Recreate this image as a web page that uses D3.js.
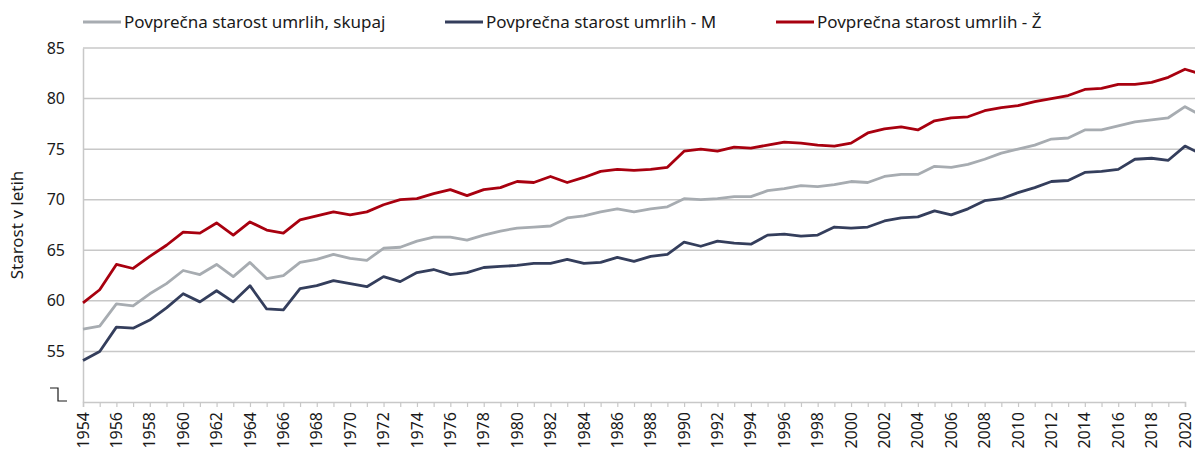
<!DOCTYPE html>
<html>
<head>
<meta charset="utf-8">
<script src="https://cdn.jsdelivr.net/npm/d3@7"></script>
<style>
  body { margin: 0; background: #fff; }
  svg { display: block; font-family: "Noto Sans", "Open Sans", sans-serif; }
</style>
</head>
<body>
<div id="chart"></div>
<script>
// years 1954-2021
const years = d3.range(1954, 2022);

const skupaj = [57.2, 57.5, 59.7, 59.5, 60.7, 61.7, 63.0, 62.6, 63.6, 62.4,
  63.8, 62.2, 62.5, 63.8, 64.1, 64.6, 64.2, 64.0, 65.2, 65.3,
  65.9, 66.3, 66.3, 66.0, 66.5, 66.9, 67.2, 67.3, 67.4, 68.2,
  68.4, 68.8, 69.1, 68.8, 69.1, 69.3, 70.1, 70.0, 70.1, 70.3,
  70.3, 70.9, 71.1, 71.4, 71.3, 71.5, 71.8, 71.7, 72.3, 72.5,
  72.5, 73.3, 73.2, 73.5, 74.0, 74.6, 75.0, 75.4, 76.0, 76.1,
  76.9, 76.9, 77.3, 77.7, 77.9, 78.1, 79.2, 78.3];

const moski = [54.1, 55.0, 57.4, 57.3, 58.1, 59.3, 60.7, 59.9, 61.0, 59.9,
  61.5, 59.2, 59.1, 61.2, 61.5, 62.0, 61.7, 61.4, 62.4, 61.9,
  62.8, 63.1, 62.6, 62.8, 63.3, 63.4, 63.5, 63.7, 63.7, 64.1,
  63.7, 63.8, 64.3, 63.9, 64.4, 64.6, 65.8, 65.4, 65.9, 65.7,
  65.6, 66.5, 66.6, 66.4, 66.5, 67.3, 67.2, 67.3, 67.9, 68.2,
  68.3, 68.9, 68.5, 69.1, 69.9, 70.1, 70.7, 71.2, 71.8, 71.9,
  72.7, 72.8, 73.0, 74.0, 74.1, 73.9, 75.3, 74.5];

const zenske = [59.8, 61.1, 63.6, 63.2, 64.4, 65.5, 66.8, 66.7, 67.7, 66.5,
  67.8, 67.0, 66.7, 68.0, 68.4, 68.8, 68.5, 68.8, 69.5, 70.0,
  70.1, 70.6, 71.0, 70.4, 71.0, 71.2, 71.8, 71.7, 72.3, 71.7,
  72.2, 72.8, 73.0, 72.9, 73.0, 73.2, 74.8, 75.0, 74.8, 75.2,
  75.1, 75.4, 75.7, 75.6, 75.4, 75.3, 75.6, 76.6, 77.0, 77.2,
  76.9, 77.8, 78.1, 78.2, 78.8, 79.1, 79.3, 79.7, 80.0, 80.3,
  80.9, 81.0, 81.4, 81.4, 81.6, 82.1, 82.9, 82.4];

const series = [
  { name: "Povprečna starost umrlih, skupaj", values: skupaj, color: "#a7acb1", lx: 83 },
  { name: "Povprečna starost umrlih - M", values: moski, color: "#343e5c", lx: 445 },
  { name: "Povprečna starost umrlih - Ž", values: zenske, color: "#a8000f", lx: 776 }
];

const yTicks = [55, 60, 65, 70, 75, 80, 85];
const xLabelYears = d3.range(1954, 2021, 2);

const W = 1195, H = 450;
const plotLeft = 83, plotTop = 48, plotBottom = 402;

const svg = d3.select("#chart").append("svg")
  .attr("width", W)
  .attr("height", H);

const x = d3.scaleLinear().domain([1954, 2020]).range([plotLeft, 1185]);
const y = d3.scaleLinear().domain([50, 85]).range([plotBottom, plotTop]);

// gridlines
svg.append("g")
  .selectAll("line")
  .data(yTicks)
  .join("line")
  .attr("x1", plotLeft)
  .attr("x2", W)
  .attr("y1", d => y(d))
  .attr("y2", d => y(d))
  .attr("stroke", "#c8c8c8")
  .attr("stroke-width", 1.5);

// y axis
const yAxis = svg.append("g")
  .attr("transform", `translate(${plotLeft},0)`)
  .call(d3.axisLeft(y).tickValues(yTicks).tickSize(0).tickPadding(18));
yAxis.select(".domain").attr("stroke", "#c8c8c8").attr("stroke-width", 1.5);
yAxis.selectAll("text")
  .attr("font-size", 16)
  .attr("fill", "#1a1a1a")
  .attr("font-family", "Noto Sans");

// axis break marker
svg.append("path")
  .attr("d", "M50,388H58V401H67")
  .attr("fill", "none")
  .attr("stroke", "#1a1a1a")
  .attr("stroke-width", 1.2);

// x axis
const xAxis = svg.append("g")
  .attr("transform", `translate(0,${plotBottom})`)
  .call(d3.axisBottom(x).tickValues(years.filter(d => d <= 2020)).tickSize(5).tickFormat(""));
xAxis.select(".domain").attr("stroke", "#c8c8c8").attr("stroke-width", 1.5);
xAxis.selectAll(".tick line").attr("stroke", "#c8c8c8").attr("stroke-width", 1.2);

svg.append("g")
  .selectAll("text")
  .data(xLabelYears)
  .join("text")
  .attr("transform", d => `translate(${x(d)},${plotBottom + 10}) rotate(-90)`)
  .attr("text-anchor", "end")
  .attr("dy", "0.35em")
  .attr("font-size", 16)
  .attr("fill", "#1a1a1a")
  .text(d => d);

// y title
svg.append("text")
  .attr("transform", `translate(23,${(plotTop + plotBottom) / 2}) rotate(-90)`)
  .attr("text-anchor", "middle")
  .attr("font-size", 17)
  .attr("fill", "#1a1a1a")
  .text("Starost v letih");

// lines
const line = d3.line()
  .x((d, i) => x(years[i]))
  .y(d => y(d));

svg.append("g")
  .selectAll("path")
  .data(series)
  .join("path")
  .attr("d", d => line(d.values))
  .attr("fill", "none")
  .attr("stroke", d => d.color)
  .attr("stroke-width", 2.8)
  .attr("stroke-linejoin", "round");

// legend
const legend = svg.append("g")
  .selectAll("g")
  .data(series)
  .join("g")
  .attr("transform", d => `translate(${d.lx},22)`);

legend.append("line")
  .attr("x1", 0)
  .attr("x2", 38)
  .attr("stroke", d => d.color)
  .attr("stroke-width", 2.8);

legend.append("text")
  .attr("x", 41)
  .attr("dy", "0.35em")
  .attr("font-size", 17)
  .attr("fill", "#1a1a1a")
  .text(d => d.name);
</script>
</body>
</html>
